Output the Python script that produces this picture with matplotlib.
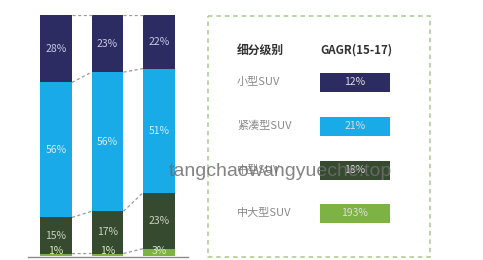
import matplotlib
matplotlib.use("Agg")
import matplotlib.pyplot as plt
from matplotlib.patches import Rectangle
import numpy as np

plt.rcParams['font.family'] = ['Noto Sans CJK SC', 'DejaVu Sans']

# stacked shares per bar (bottom -> top): 中大型, 中型, 紧凑型, 小型
bar_names = ['A', 'B', 'C']
large_suv = [1, 1, 3]
mid_suv = [15, 17, 23]
compact_suv = [56, 56, 51]
small_suv = [28, 23, 22]

seg_colors = ['#7cb342', '#354a2e', '#19aae8', '#2c2b62']
label_colors = ['#d9ecc6', '#c9d3c2', '#cfeefb', '#c8c7e2']

# right-side table
table_header = ['细分级别', 'GAGR(15-17)']
row_labels = ['小型SUV', '紧凑型SUV', '中型SUV', '中大型SUV']
row_values = ['12%', '21%', '18%', '193%']
row_colors = ['#2c2b62', '#19aae8', '#354a2e', '#7cb342']

W, H = 483, 260
fig = plt.figure(figsize=(W / 100, H / 100), dpi=100)


def px(x0, y0, x1, y1):
    return [x0 / W, 1 - y1 / H, (x1 - x0) / W, (y1 - y0) / H]


# ---- stacked bars ----
ax = fig.add_axes(px(28, 15, 188, 256))
segs = np.array([large_suv, mid_suv, compact_suv, small_suv], dtype=float)
segs = segs / segs.sum(axis=0) * 100
x = np.arange(len(bar_names))
width = 0.62
bottom = np.zeros(len(x))
raw = [large_suv, mid_suv, compact_suv, small_suv]
for i, s in enumerate(segs):
    ax.bar(x, s, width, bottom=bottom, color=seg_colors[i], linewidth=0)
    for j in range(len(x)):
        ty = bottom[j] + s[j] / 2
        if s[j] < 4:
            ty = 2.2
        ax.text(x[j], ty, f'{raw[i][j]}%', ha='center', va='center',
                fontsize=7.5, color=label_colors[i])
    bottom = bottom + s

# dashed connectors between segment boundaries
cum = np.vstack([np.cumsum(segs, axis=0)[:-1], np.full(len(x), 100.0)])
for level in cum:
    for j in range(len(x) - 1):
        ax.plot([x[j] + width / 2, x[j + 1] - width / 2], [level[j], level[j + 1]],
                ls=(0, (2.5, 2)), color='#9a9a9a', lw=0.9)

ax.set_xlim(-0.544, 2.563)
ax.set_ylim(0, 100)
ax.axis('off')
fig.add_artist(plt.Line2D([28 / W, 188 / W], [1 - 256.5 / H] * 2, color='#8a8a8a', lw=1))

# ---- right table ----
tax = fig.add_axes([0, 0, 1, 1])
tax.set_xlim(0, W)
tax.set_ylim(H, 0)
tax.axis('off')
tax.add_patch(Rectangle((208, 16), 222, 241, fill=False, ec='#a9c98f', lw=1.1,
                        ls=(0, (3, 2.5))))
tax.text(237, 50, table_header[0], fontsize=8.5, fontweight='bold', color='#333333', va='center')
tax.text(320, 50, table_header[1], fontsize=8.3, fontweight='bold', color='#333333', va='center')
row_y = [82, 126, 170, 213]
for lab, val, col, y in zip(row_labels, row_values, row_colors, row_y):
    tax.text(237, y, lab, fontsize=8, color='#8a8a8a', va='center')
    tax.add_patch(Rectangle((320, y - 9.5), 70, 19, color=col, lw=0))
    tax.text(355, y, val, fontsize=7.5, color='#dddddd', ha='center', va='center')

# watermark
tax.text(280, 171, 'tangchaowangyueche.top', fontsize=14, color='#6e6e6e', alpha=0.85,
         ha='center', va='center', family='Liberation Sans')

fig.savefig('out.png', dpi=100)
